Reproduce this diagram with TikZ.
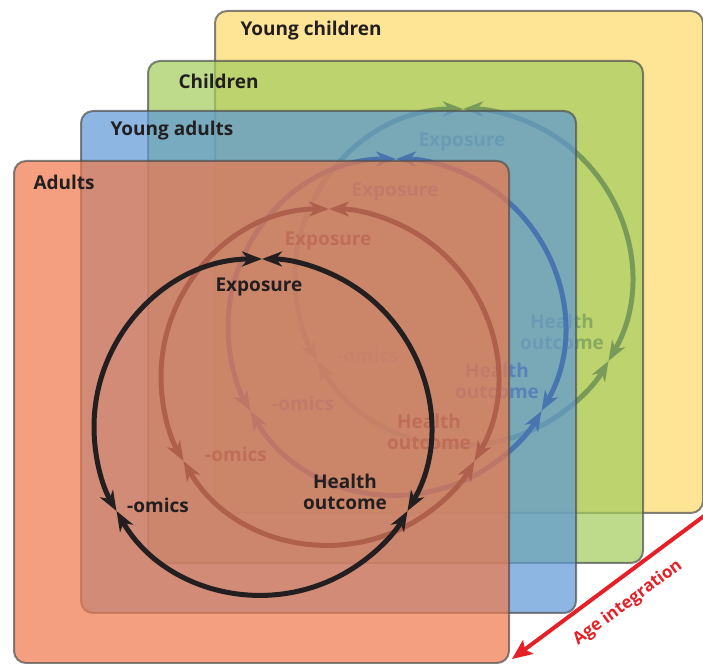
\documentclass[tikz,border=0pt]{standalone}
\usepackage{fontspec}
\setmainfont{Open Sans}
\usetikzlibrary{arrows.meta,positioning,calc}
\definecolor{ycfill}{RGB}{254,218,106}
\definecolor{chfill}{RGB}{162,204,91}
\definecolor{yafill}{RGB}{92,151,215}
\definecolor{adfill}{RGB}{239,120,74}
\definecolor{boxline}{RGB}{80,80,80}
\definecolor{ink}{RGB}{35,31,32}
\definecolor{backink}{RGB}{25,40,85}
\definecolor{backtext}{RGB}{80,85,120}
\definecolor{agered}{RGB}{230,32,39}
\tikzset{
>={Stealth[length=20pt,width=15pt,inset=6pt]}, % barbed heads on the cycles
x=1pt, y=1pt,
agebox/.style={draw=boxline, line width=2pt, rounded corners=12pt, opacity=0.7,
  minimum width=495pt, minimum height=502pt, anchor=north west, inner sep=0pt},
agelabel/.style={anchor=west, text=ink, font=\bfseries\fontsize{19}{21}\selectfont},
steplabel/.style={text=ink, align=center, font=\bfseries\fontsize{19}{21}\selectfont},
cyclearc/.style={<->, draw=ink, line width=5pt},
backarc/.style={cyclearc, draw=backink},
backlabel/.style={steplabel, text=backtext},
}

\begin{document}
\begin{tikzpicture}
\useasboundingbox (0,0) rectangle (703,663);

% young children
\node[agebox, fill=ycfill, minimum width=488pt] (ycbox) at (214,653) {};
\node[agelabel] (yclab) at ($(ycbox.north west)+(23,-21)$) {Young children};
\coordinate (ycc) at (463,386);
\coordinate (ycexp) at ($(ycc)+(90:168)$);
\coordinate (ycomi) at ($(ycc)+(210:168)$);
\coordinate (ychea) at ($(ycc)+(330:168)$);
\draw[backarc] (ycexp) arc[start angle=90, end angle=210, radius=168];
\draw[backarc] (ycomi) arc[start angle=210, end angle=330, radius=168];
\draw[backarc] (ychea) arc[start angle=-30, end angle=90, radius=168];
\node[backlabel] (ycexpt) at (462,521) {Exposure};
\node[backlabel] (ycomit) at (368,308) {-omics};
\node[backlabel] (ycheat) at (562,331) {Health\\outcome};

% children
\node[agebox, fill=chfill] (chbox) at (147,603) {};
\node[agelabel] (chlab) at ($(chbox.north west)+(28,-21)$) {Children};
\coordinate (chc) at (396,336);
\coordinate (chexp) at ($(chc)+(90:168)$);
\coordinate (chomi) at ($(chc)+(210:168)$);
\coordinate (chhea) at ($(chc)+(330:168)$);
\draw[backarc] (chexp) arc[start angle=90, end angle=210, radius=168];
\draw[backarc] (chomi) arc[start angle=210, end angle=330, radius=168];
\draw[backarc] (chhea) arc[start angle=-30, end angle=90, radius=168];
\node[backlabel] (chexpt) at (395,471) {Exposure};
\node[backlabel] (chomit) at (303,260) {-omics};
\node[backlabel] (chheat) at (497,282) {Health\\outcome};

% young adults
\node[agebox, fill=yafill] (yabox) at (80,553) {};
\node[agelabel] (yalab) at ($(yabox.north west)+(27,-21)$) {Young adults};
\coordinate (yac) at (329,286);
\coordinate (yaexp) at ($(yac)+(90:168)$);
\coordinate (yaomi) at ($(yac)+(210:168)$);
\coordinate (yahea) at ($(yac)+(330:168)$);
\draw[backarc] (yaexp) arc[start angle=90, end angle=210, radius=168];
\draw[backarc] (yaomi) arc[start angle=210, end angle=330, radius=168];
\draw[backarc] (yahea) arc[start angle=-30, end angle=90, radius=168];
\node[backlabel] (yaexpt) at (328,422) {Exposure};
\node[backlabel] (yaomit) at (236,209) {-omics};
\node[backlabel] (yaheat) at (429,231) {Health\\outcome};

% adults
\node[agebox, fill=adfill] (adbox) at (13,503) {};
\node[agelabel] (adlab) at ($(adbox.north west)+(17,-22)$) {Adults};
\coordinate (adc) at (262,236);
\coordinate (adexp) at ($(adc)+(90:168)$);
\coordinate (adomi) at ($(adc)+(210:168)$);
\coordinate (adhea) at ($(adc)+(330:168)$);
\draw[cyclearc] (adexp) arc[start angle=90, end angle=210, radius=168];
\draw[cyclearc] (adomi) arc[start angle=210, end angle=330, radius=168];
\draw[cyclearc] (adhea) arc[start angle=-30, end angle=90, radius=168];
\node[steplabel] (adexpt) at (259,376) {Exposure};
\node[steplabel] (adomit) at (158,158) {-omics};
\node[steplabel] (adheat) at (345,171) {Health\\outcome};

% age arrow
\coordinate (agefrom) at (708,150);
\coordinate (ageto) at (512,4);
\draw[-{Stealth[length=20pt,width=17pt,inset=4pt]}, agered, line width=4pt] (agefrom) -- (ageto);
\node[text=agered, rotate=36.7, font=\bfseries\fontsize{17}{19}\selectfont] (agelab) at (628,60) {Age integration};
\end{tikzpicture}
\end{document}
